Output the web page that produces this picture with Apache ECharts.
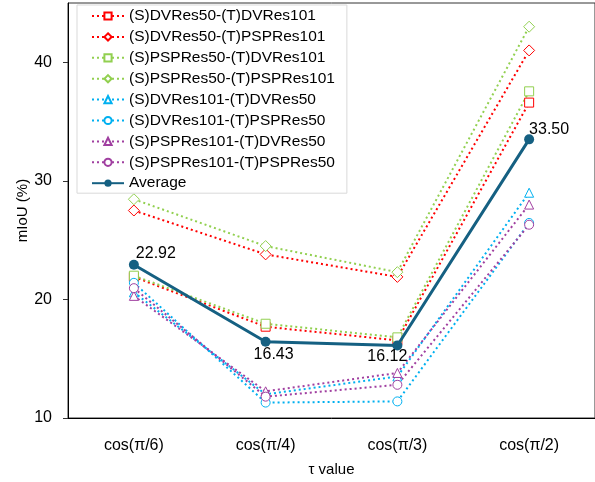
<!DOCTYPE html>
<html><head><meta charset="utf-8">
<script src="https://cdn.jsdelivr.net/npm/echarts@6/dist/echarts.min.js"></script>
<style>html,body{margin:0;padding:0;background:#fff}#c{width:595px;height:482px}</style>
</head><body><div id="c"></div>
<script>
const categories = ['cos(π/6)', 'cos(π/4)', 'cos(π/3)', 'cos(π/2)'];
const s1 = [21.9, 17.7, 16.55, 36.6];   // (S)DVRes50-(T)DVRes101
const s2 = [27.5, 23.8, 21.9, 41.0];    // (S)DVRes50-(T)PSPRes101
const s3 = [22.0, 17.95, 16.8, 37.55];  // (S)PSPRes50-(T)DVRes101
const s4 = [28.45, 24.5, 22.3, 43.0];   // (S)PSPRes50-(T)PSPRes101
const s5 = [20.6, 12.0, 13.5, 29.0];    // (S)DVRes101-(T)DVRes50
const s6 = [21.4, 11.3, 11.4, 26.45];   // (S)DVRes101-(T)PSPRes50
const s7 = [20.3, 12.25, 13.8, 28.0];   // (S)PSPRes101-(T)DVRes50
const s8 = [20.95, 11.8, 12.8, 26.3];   // (S)PSPRes101-(T)PSPRes50
const avg = [22.92, 16.43, 16.12, 33.50];
const names = ['(S)DVRes50-(T)DVRes101','(S)DVRes50-(T)PSPRes101','(S)PSPRes50-(T)DVRes101','(S)PSPRes50-(T)PSPRes101','(S)DVRes101-(T)DVRes50','(S)DVRes101-(T)PSPRes50','(S)PSPRes101-(T)DVRes50','(S)PSPRes101-(T)PSPRes50','Average'];
const yTicks = [10, 20, 30, 40];

const RED = '#FF0000', GREEN = '#92D050', CYAN = '#00B0F0', PURPLE = '#A03FA0', AVG = '#156082';
const FONT = '"Liberation Sans", Arial, sans-serif';
function dotted(name, data, color, symbol) {
  return {
    name, type: 'line', data, symbol, symbolSize: symbol === 'diamond' ? 11 : 9,
    lineStyle: { color, width: 2, type: [2, 3] },
    itemStyle: { color: '#fff', borderColor: color, borderWidth: 1 },
    emphasis: { disabled: true }, z: 2
  };
}
const labelPos = ['top', 'bottom', 'bottom', 'top'];
const labelOff = [[22, 4], [8, -2], [-10, -4], [20, 5]];
const series = [
  dotted(names[0], s1, RED, 'rect'),
  dotted(names[1], s2, RED, 'diamond'),
  dotted(names[2], s3, GREEN, 'rect'),
  dotted(names[3], s4, GREEN, 'diamond'),
  dotted(names[4], s5, CYAN, 'triangle'),
  dotted(names[5], s6, CYAN, 'circle'),
  dotted(names[6], s7, PURPLE, 'triangle'),
  dotted(names[7], s8, PURPLE, 'circle'),
  {
    name: names[8], type: 'line', data: avg.map((v, i) => ({
      value: v, label: { position: labelPos[i], offset: labelOff[i] }
    })),
    symbol: 'circle', symbolSize: 10,
    lineStyle: { color: AVG, width: 3 }, itemStyle: { color: AVG },
    label: { show: true, formatter: p => p.value.toFixed(2), fontFamily: FONT, fontSize: 16, color: '#000', distance: 2 },
    emphasis: { disabled: true }, z: 5
  }
];
const chart = echarts.init(document.getElementById('c'));
chart.setOption({
  animation: false,
  grid: { left: 68, right: -3, top: 3, bottom: 64, show: true, borderColor: '#333', borderWidth: 1 },
  legend: {
    orient: 'vertical', left: 77, top: 5, data: names,
    itemWidth: 32, itemHeight: 9, itemGap: 4.9,
    backgroundColor: '#fff', borderColor: '#d9d9d9', borderWidth: 1, padding: [3, 12, 2, 14],
    textStyle: { fontFamily: FONT, fontSize: 15.5, color: '#000' }
  },
  xAxis: {
    type: 'category', data: categories, boundaryGap: true,
    name: 'τ value', nameLocation: 'middle', nameGap: 44, nameMoveOverlap: false,
    nameTextStyle: { fontFamily: FONT, fontSize: 15, color: '#000' },
    axisLine: { lineStyle: { color: '#000', width: 1 } },
    axisTick: { alignWithLabel: true, length: 5, lineStyle: { color: '#333' } },
    axisLabel: { fontFamily: FONT, fontSize: 16, color: '#000', margin: 20 }
  },
  yAxis: {
    type: 'value', min: yTicks[0], max: 45, interval: 10,
    name: 'mIoU (%)', nameLocation: 'middle', nameGap: 38, nameMoveOverlap: false,
    nameTextStyle: { fontFamily: FONT, fontSize: 15, color: '#000' },
    axisLine: { show: true, lineStyle: { color: '#000', width: 1 } },
    axisTick: { show: true, length: 5, lineStyle: { color: '#333' } },
    splitLine: { show: false },
    axisLabel: { fontFamily: FONT, fontSize: 16, color: '#000', margin: 16, showMaxLabel: false,
      formatter: v => yTicks.includes(v) ? String(v) : '' }
  },
  series
});
</script></body></html>
